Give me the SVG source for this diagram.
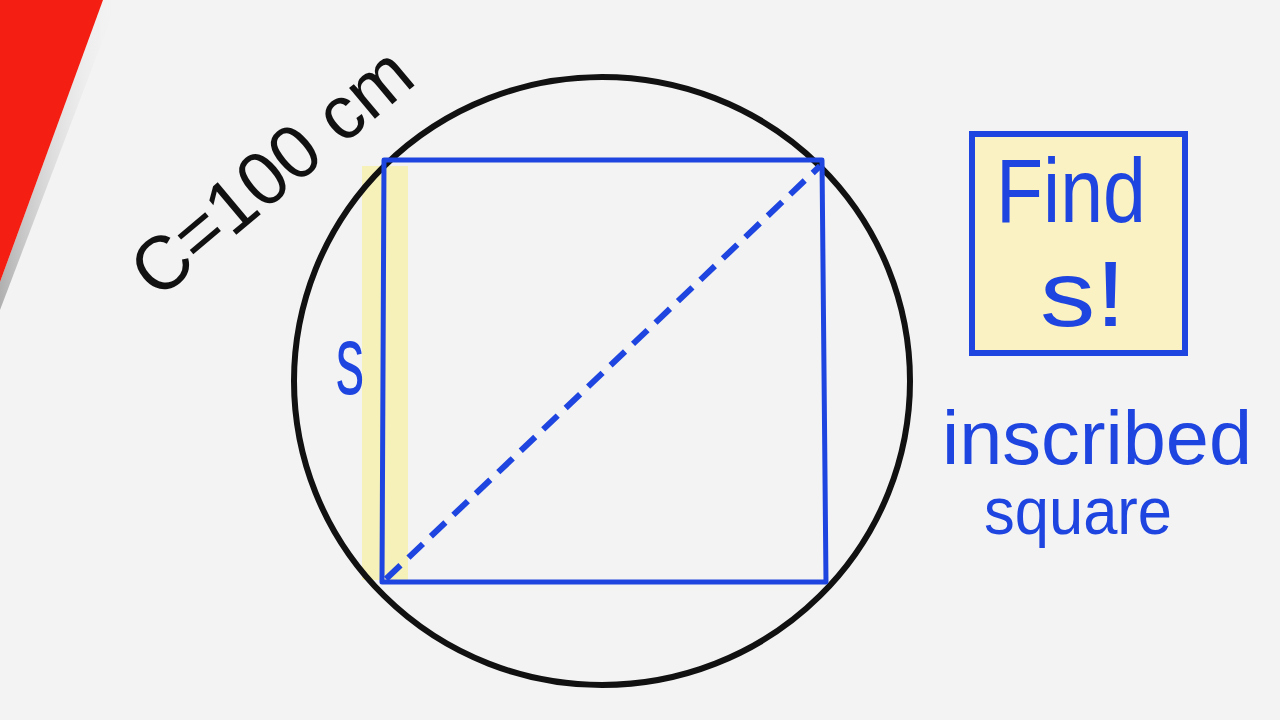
<svg xmlns="http://www.w3.org/2000/svg" width="1280" height="720" viewBox="0 0 1280 720">
<defs>
<style>
.blue{fill:#1f45e0;font-family:"Liberation Sans",Arial,sans-serif;}
.black{fill:#111;font-family:"Liberation Sans",Arial,sans-serif;}
.edge{stroke:#1f45e0;stroke-width:5;fill:none;stroke-linejoin:round;}
</style>
<linearGradient id="shadow" x1="0" y1="0" x2="1" y2="0">
<stop offset="0" stop-color="#b0b0b0"/>
<stop offset="1" stop-color="#f0f0f0" stop-opacity="0"/>
</linearGradient>
</defs>
<rect width="1280" height="720" fill="#f3f3f3"/>
<g id="corner">
<polygon points="103,0 118,0 0,310 0,282" fill="url(#shadow)"/>
<polygon points="0,0 103,0 0,282" fill="#f41e12"/>
</g>
<g id="label-c">
<text class="black" transform="translate(270,170) rotate(-40)" x="0" y="28" font-size="76" text-anchor="middle" textLength="340" lengthAdjust="spacingAndGlyphs">C=100 cm</text>
</g>
<g id="highlight">
<rect x="362" y="166" width="46" height="414" fill="#f7eea0" opacity="0.7"/>
</g>
<g id="circle">
<ellipse cx="602" cy="381" rx="308" ry="304" fill="none" stroke="#111" stroke-width="6"/>
</g>
<g id="square">
<path class="edge" d="M384,160 L822,160 L826,582 L382,582 Z"/>
</g>
<g id="connectors">
<line x1="386" y1="579" x2="820" y2="166" stroke="#1f45e0" stroke-width="6" stroke-dasharray="20 11"/>
</g>
<g id="label-s">
<text class="blue" x="0" y="0" font-size="98" text-anchor="middle" transform="translate(350 394) scale(0.58 1)">s</text>
</g>
<g id="find-box">
<rect x="972" y="134" width="213" height="219" fill="#faf2c2" stroke="#1f45e0" stroke-width="6"/>
<text class="blue" x="996" y="222" font-size="90" textLength="150" lengthAdjust="spacingAndGlyphs">Find</text>
<text class="blue" x="1040" y="326" font-size="92" textLength="86" lengthAdjust="spacingAndGlyphs">s!</text>
</g>
<g id="caption">
<text class="blue" x="942" y="464" font-size="76" textLength="310" lengthAdjust="spacingAndGlyphs">inscribed</text>
<text class="blue" x="984" y="534" font-size="66" textLength="188" lengthAdjust="spacingAndGlyphs">square</text>
</g>
</svg>
